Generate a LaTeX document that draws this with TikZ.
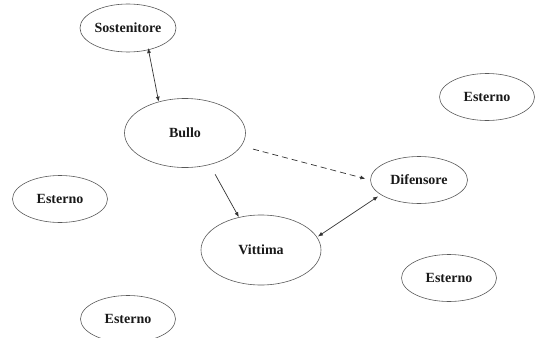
\documentclass[tikz,border=0pt]{standalone}
\usepackage{fontspec}
\setmainfont{Liberation Serif}
\usetikzlibrary{shapes.geometric,arrows.meta}
\tikzset{
  role/.style={ellipse, draw=black!65, line width=0.6pt, inner sep=0pt,
    font=\fontsize{14}{16}\selectfont\bfseries, text=black!90},
  big/.style={role, minimum width=120pt, minimum height=70pt},
  small/.style={role, minimum width=95pt, minimum height=47pt},
  link/.style={draw=black!80, line width=0.7pt},
  tip/.style={Latex[length=5pt,width=4pt]}
}
\begin{document}
\begin{tikzpicture}[x=1pt,y=-1pt]
\useasboundingbox (0,0) rectangle (540,337);
\clip (0,0) rectangle (540,337);
\node[small, minimum width=96pt, minimum height=48pt] (sost) at (128,28) {Sostenitore};
\node[big, minimum width=121pt, minimum height=69pt] (bullo) at (185,133) {Bullo};
\node[big] (vitt) at (261,250) {Vittima};
\node[small, minimum width=97pt] (dif) at (419,180) {Difensore};
\node[small] (e1) at (487,97) {Esterno};
\node[small] (e2) at (60,199) {Esterno};
\node[small] (e3) at (449,278) {Esterno};
\node[small] (e4) at (128,319) {Esterno};
\draw[link, {Latex[length=5pt,width=4pt]}-{Latex[length=5pt,width=4pt]}, shorten <=-2pt] (sost.-47) -- (bullo.130);
\draw[link, dashed, dash pattern=on 6pt off 4pt, -{Latex[length=5pt,width=4pt]}, shorten <=12pt, shorten >=5pt] (bullo.-13) -- (dif.180);
\draw[link, -{Latex[length=5pt,width=4pt]}, shorten <=11pt] (bullo.-52) -- (vitt.124);
\draw[link, {Latex[length=5pt,width=4pt]}-{Latex[length=5pt,width=4pt]}, shorten <=1pt, shorten >=3pt] (vitt.13) -- (dif.201);
\end{tikzpicture}
\end{document}
